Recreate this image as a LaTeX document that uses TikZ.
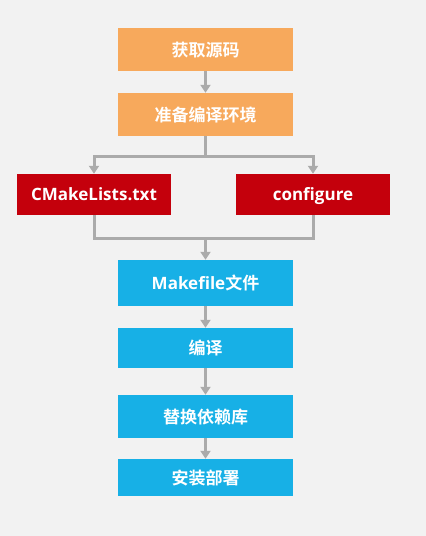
\documentclass[tikz,border=0pt]{standalone}
\usepackage{fontspec}
\setmainfont{Noto Sans CJK SC Bold}
\newfontfamily\latn{Open Sans Bold}
\usetikzlibrary{arrows.meta}
\definecolor{bg}{HTML}{F2F2F2}
\definecolor{orng}{HTML}{F7A95C}
\definecolor{redb}{HTML}{C4000C}
\definecolor{blueb}{HTML}{17B0E6}
\definecolor{conn}{HTML}{ABABAB}
\tikzset{
  box/.style={draw=none, minimum height=#1, text=white, font=\fontsize{17}{20}\selectfont, inner sep=0pt, text height=13pt, text depth=0pt},
  obox/.style={box=43pt, fill=orng, minimum width=175pt},
  rbox/.style={box=41pt, fill=redb, minimum width=154pt, text height=12.2pt},
  bbox/.style={fill=blueb, minimum width=175pt, text=white, font=\fontsize{17}{20}\selectfont, inner sep=0pt, text height=13pt, text depth=0pt},
  arr/.style={draw=conn, line width=3pt, -{Triangle[length=8pt,width=10pt]}},
  ln/.style={draw=conn, line width=3pt},
}
\begin{document}
\begin{tikzpicture}[x=1pt,y=-1pt]
\fill[bg] (0,0) rectangle (426,536);
\useasboundingbox (0,0) rectangle (426,536);
\node[obox] (a) at (205.5,49.5) {获取源码};
\node[obox] (b) at (205.5,114.5) {准备编译环境};
\node[rbox] (c) at (94,194.5) {\latn CMakeLists.txt};
\node[rbox] (d) at (313,194.5) {\latn configure};
\node[bbox, minimum height=46pt] (e) at (205.5,283) {{\latn Makefile}文件};
\node[bbox, minimum height=40pt] (f) at (205.5,348) {编译};
\node[bbox, minimum height=43pt] (g) at (205.5,416.5) {替换依赖库};
\node[bbox, minimum height=37pt] (h) at (205.5,477.5) {安装部署};
\coordinate (s) at (205.5,156);
\coordinate (m) at (205.5,238);
\draw[arr] (a) -- (b);
\draw[ln] (b) -- (s);
\draw[arr] (s) -| (c);
\draw[arr] (s) -| (d);
\draw[ln] (c) |- (m);
\draw[ln] (d) |- (m);
\draw[arr] (m) -- (e);
\draw[arr] (e) -- (f);
\draw[arr] (f) -- (g);
\draw[arr] (g) -- (h);
\end{tikzpicture}
\end{document}
